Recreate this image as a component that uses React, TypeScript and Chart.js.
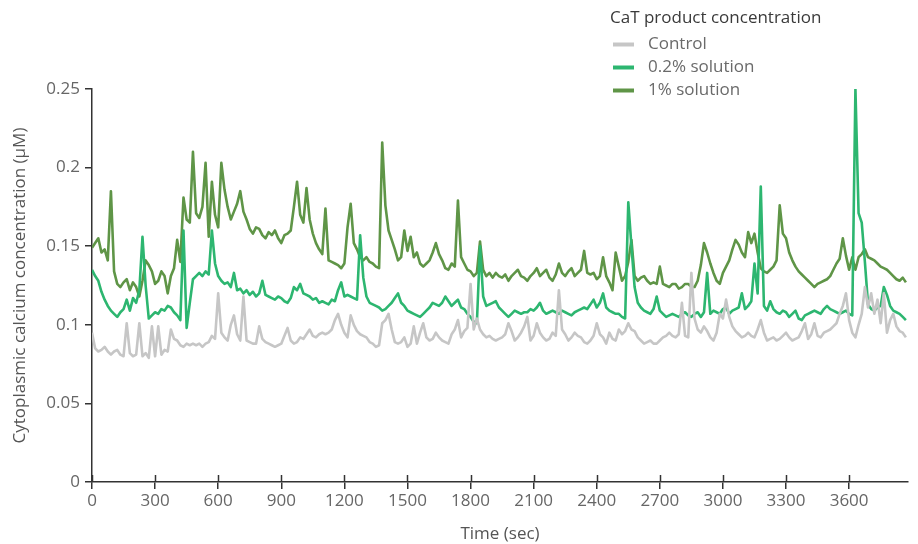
import { useEffect, useRef } from 'react';
import { Chart, registerables } from 'chart.js';

Chart.register(...registerables);

// Sampling interval of the recordings (seconds between consecutive values)
const SAMPLE_STEP_SEC = 15;
const X_MAX_SEC = 3880;

const seriesLabels = ['Control', '0.2% solution', '1% solution'];
const seriesColors = ['#c6c6c6', '#2db670', '#5f9547'];
const legendTitle = 'CaT product concentration';
const xAxisTitle = 'Time (sec)';
const yAxisTitle = 'Cytoplasmic calcium concentration (µM)';

const xTickValues = [0, 300, 600, 900, 1200, 1500, 1800, 2100, 2400, 2700, 3000, 3300, 3600];
const yTickValues = [0, 0.05, 0.1, 0.15, 0.2, 0.25];
const yTickLabels = ['0', '0.05', '0.1', '0.15', '0.2', '0.25'];

const controlValues = [
  0.095, 0.085, 0.083, 0.084, 0.086, 0.083, 0.081, 0.083, 0.084, 0.081,
  0.080, 0.101, 0.082, 0.080, 0.081, 0.101, 0.080, 0.082, 0.079, 0.099,
  0.080, 0.099, 0.081, 0.084, 0.083, 0.097, 0.091, 0.090, 0.087, 0.086,
  0.088, 0.087, 0.088, 0.087, 0.088, 0.086, 0.088, 0.089, 0.093, 0.091,
  0.120, 0.095, 0.092, 0.090, 0.100, 0.106, 0.094, 0.090, 0.118, 0.090,
  0.089, 0.088, 0.088, 0.099, 0.091, 0.089, 0.088, 0.087, 0.086, 0.087,
  0.088, 0.093, 0.098, 0.090, 0.088, 0.089, 0.092, 0.091, 0.094, 0.097,
  0.093, 0.092, 0.094, 0.095, 0.094, 0.095, 0.097, 0.103, 0.107, 0.100,
  0.095, 0.092, 0.106, 0.100, 0.096, 0.094, 0.093, 0.092, 0.089, 0.088,
  0.086, 0.087, 0.101, 0.103, 0.107, 0.097, 0.089, 0.088, 0.089, 0.092,
  0.086, 0.088, 0.099, 0.088, 0.095, 0.101, 0.092, 0.090, 0.091, 0.095,
  0.092, 0.090, 0.089, 0.088, 0.094, 0.097, 0.103, 0.092, 0.096, 0.098,
  0.126, 0.097, 0.104, 0.097, 0.094, 0.092, 0.093, 0.091, 0.090, 0.091,
  0.092, 0.094, 0.101, 0.096, 0.090, 0.092, 0.095, 0.099, 0.105, 0.090,
  0.093, 0.101, 0.095, 0.092, 0.090, 0.091, 0.095, 0.093, 0.122, 0.097,
  0.094, 0.090, 0.092, 0.095, 0.093, 0.092, 0.089, 0.088, 0.090, 0.093,
  0.101, 0.094, 0.092, 0.088, 0.095, 0.091, 0.090, 0.097, 0.094, 0.096,
  0.101, 0.097, 0.096, 0.092, 0.090, 0.088, 0.089, 0.090, 0.088, 0.088,
  0.090, 0.092, 0.093, 0.095, 0.093, 0.092, 0.094, 0.114, 0.093, 0.092,
  0.133, 0.104, 0.097, 0.095, 0.099, 0.096, 0.092, 0.090, 0.095, 0.107,
  0.104, 0.116, 0.105, 0.099, 0.096, 0.094, 0.092, 0.093, 0.095, 0.093,
  0.092, 0.097, 0.103, 0.095, 0.090, 0.091, 0.092, 0.090, 0.091, 0.093,
  0.095, 0.092, 0.090, 0.091, 0.092, 0.096, 0.101, 0.091, 0.094, 0.101,
  0.093, 0.092, 0.095, 0.096, 0.097, 0.099, 0.101, 0.107, 0.112, 0.120,
  0.103, 0.095, 0.092, 0.100, 0.107, 0.124, 0.111, 0.120, 0.107, 0.116,
  0.101, 0.120, 0.095, 0.103, 0.107, 0.099, 0.096, 0.095, 0.092,
];

const solution02Values = [
  0.135, 0.131, 0.128, 0.121, 0.116, 0.112, 0.109, 0.107, 0.105, 0.108,
  0.110, 0.116, 0.109, 0.117, 0.114, 0.122, 0.156, 0.125, 0.104, 0.106,
  0.108, 0.107, 0.110, 0.109, 0.112, 0.111, 0.108, 0.106, 0.103, 0.160,
  0.098, 0.114, 0.129, 0.131, 0.133, 0.131, 0.134, 0.132, 0.160, 0.139,
  0.131, 0.128, 0.126, 0.127, 0.124, 0.133, 0.122, 0.123, 0.120, 0.122,
  0.119, 0.121, 0.118, 0.120, 0.128, 0.119, 0.118, 0.117, 0.116, 0.118,
  0.117, 0.115, 0.114, 0.117, 0.124, 0.122, 0.126, 0.120, 0.119, 0.118,
  0.116, 0.117, 0.114, 0.115, 0.114, 0.113, 0.116, 0.115, 0.122, 0.127,
  0.118, 0.119, 0.118, 0.117, 0.116, 0.157, 0.130, 0.118, 0.114, 0.113,
  0.112, 0.111, 0.109, 0.110, 0.112, 0.114, 0.117, 0.120, 0.114, 0.112,
  0.109, 0.108, 0.107, 0.106, 0.105, 0.107, 0.109, 0.111, 0.114, 0.113,
  0.112, 0.114, 0.118, 0.115, 0.112, 0.114, 0.116, 0.111, 0.110, 0.107,
  0.105, 0.102, 0.101, 0.150, 0.118, 0.112, 0.113, 0.114, 0.115, 0.111,
  0.109, 0.107, 0.105, 0.107, 0.109, 0.108, 0.107, 0.108, 0.108, 0.110,
  0.109, 0.111, 0.114, 0.109, 0.107, 0.108, 0.109, 0.108, 0.107, 0.109,
  0.108, 0.107, 0.106, 0.108, 0.109, 0.110, 0.111, 0.110, 0.113, 0.116,
  0.111, 0.114, 0.120, 0.111, 0.109, 0.108, 0.107, 0.107, 0.105, 0.104,
  0.178, 0.150, 0.124, 0.114, 0.111, 0.109, 0.108, 0.107, 0.110, 0.118,
  0.109, 0.107, 0.105, 0.106, 0.107, 0.106, 0.105, 0.107, 0.108, 0.106,
  0.105, 0.107, 0.108, 0.105, 0.108, 0.133, 0.107, 0.109, 0.108, 0.107,
  0.110, 0.111, 0.107, 0.109, 0.110, 0.111, 0.120, 0.110, 0.112, 0.115,
  0.139, 0.120, 0.188, 0.112, 0.109, 0.115, 0.110, 0.108, 0.107, 0.109,
  0.108, 0.105, 0.107, 0.109, 0.104, 0.103, 0.106, 0.107, 0.108, 0.109,
  0.108, 0.107, 0.110, 0.112, 0.110, 0.109, 0.108, 0.107, 0.108, 0.109,
  0.107, 0.106, 0.250, 0.171, 0.165, 0.140, 0.113, 0.110, 0.109, 0.111,
  0.112, 0.124, 0.119, 0.112, 0.109, 0.108, 0.107, 0.105, 0.103,
];

const solution1Values = [
  0.149, 0.152, 0.155, 0.146, 0.148, 0.141, 0.185, 0.134, 0.126, 0.124,
  0.127, 0.129, 0.122, 0.127, 0.124, 0.118, 0.128, 0.141, 0.138, 0.134,
  0.126, 0.128, 0.134, 0.131, 0.120, 0.131, 0.136, 0.154, 0.140, 0.181,
  0.167, 0.165, 0.210, 0.171, 0.168, 0.175, 0.203, 0.156, 0.191, 0.170,
  0.162, 0.203, 0.186, 0.175, 0.167, 0.172, 0.177, 0.185, 0.172, 0.167,
  0.161, 0.158, 0.162, 0.161, 0.157, 0.155, 0.159, 0.157, 0.160, 0.155,
  0.152, 0.157, 0.158, 0.160, 0.175, 0.191, 0.170, 0.165, 0.187, 0.167,
  0.158, 0.152, 0.148, 0.145, 0.174, 0.141, 0.140, 0.139, 0.138, 0.136,
  0.139, 0.162, 0.177, 0.152, 0.148, 0.143, 0.141, 0.143, 0.140, 0.139,
  0.137, 0.136, 0.216, 0.176, 0.160, 0.154, 0.148, 0.141, 0.143, 0.160,
  0.147, 0.156, 0.143, 0.146, 0.139, 0.137, 0.139, 0.141, 0.146, 0.152,
  0.145, 0.141, 0.136, 0.135, 0.139, 0.137, 0.179, 0.143, 0.139, 0.135,
  0.134, 0.131, 0.133, 0.153, 0.135, 0.131, 0.133, 0.130, 0.133, 0.131,
  0.130, 0.132, 0.128, 0.131, 0.133, 0.135, 0.131, 0.130, 0.128, 0.131,
  0.133, 0.136, 0.131, 0.133, 0.135, 0.130, 0.128, 0.132, 0.139, 0.133,
  0.131, 0.134, 0.136, 0.131, 0.133, 0.135, 0.147, 0.133, 0.132, 0.133,
  0.129, 0.131, 0.143, 0.131, 0.127, 0.122, 0.146, 0.137, 0.128, 0.131,
  0.140, 0.154, 0.131, 0.128, 0.130, 0.131, 0.128, 0.126, 0.127, 0.126,
  0.137, 0.126, 0.125, 0.124, 0.126, 0.126, 0.123, 0.124, 0.126, 0.126,
  0.124, 0.124, 0.128, 0.138, 0.152, 0.146, 0.139, 0.133, 0.128, 0.126,
  0.133, 0.137, 0.141, 0.148, 0.154, 0.151, 0.146, 0.143, 0.159, 0.152,
  0.158, 0.146, 0.136, 0.134, 0.133, 0.135, 0.137, 0.141, 0.176, 0.158,
  0.155, 0.146, 0.141, 0.137, 0.134, 0.132, 0.130, 0.128, 0.126, 0.124,
  0.126, 0.127, 0.128, 0.129, 0.131, 0.135, 0.139, 0.142, 0.155, 0.144,
  0.135, 0.143, 0.135, 0.143, 0.145, 0.148, 0.143, 0.142, 0.141, 0.139,
  0.137, 0.136, 0.135, 0.133, 0.131, 0.129, 0.128, 0.130, 0.127,
];

const seriesValues = [controlValues, solution02Values, solution1Values];

const FONT_FAMILY = '"Open Sans", "Noto Sans", sans-serif';
const AXIS_COLOR = '#333333';

const toPoints = (values: number[]) =>
  values.map((v, i) => ({ x: i * SAMPLE_STEP_SEC, y: v }));

const decorPlugin = {
  id: 'decor',
  afterDraw(chart: any) {
    const { ctx, chartArea } = chart;
    const xScale = chart.scales.x;
    ctx.save();
    // inner half of the x-axis tick marks
    ctx.strokeStyle = AXIS_COLOR;
    ctx.lineWidth = 1.5;
    xTickValues.forEach((v) => {
      const px = Math.round(xScale.getPixelForValue(v)) + 0.5;
      ctx.beginPath();
      ctx.moveTo(px, chartArea.bottom - 7);
      ctx.lineTo(px, chartArea.bottom);
      ctx.stroke();
    });
    // legend
    const lx = 610;
    ctx.textBaseline = 'middle';
    ctx.textAlign = 'left';
    ctx.fillStyle = '#3a3a3a';
    ctx.font = `17px ${FONT_FAMILY}`;
    ctx.fillText(legendTitle, lx, 18);
    const rowsY = [44, 67, 90];
    chart.data.datasets.forEach((ds: any, i: number) => {
      const y = rowsY[i];
      ctx.strokeStyle = ds.borderColor;
      ctx.lineWidth = 4;
      ctx.beginPath();
      ctx.moveTo(613, y + 0.5);
      ctx.lineTo(634, y + 0.5);
      ctx.stroke();
      ctx.fillStyle = '#6a6a6a';
      ctx.fillText(ds.label, 648, y);
    });
    ctx.restore();
  },
};

export default function App() {
  const canvasRef = useRef<HTMLCanvasElement | null>(null);

  useEffect(() => {
    document.body.style.margin = '0';
    const canvas = canvasRef.current;
    if (!canvas) return;
    const chart = new Chart(canvas, {
      type: 'line',
      data: {
        datasets: seriesLabels.map((label, i) => ({
          label,
          data: toPoints(seriesValues[i]),
          borderColor: seriesColors[i],
          backgroundColor: seriesColors[i],
          borderWidth: 2.6,
          borderJoinStyle: 'round',
          pointRadius: 0,
          tension: 0,
          fill: false,
        })),
      },
      options: {
        animation: false,
        responsive: true,
        maintainAspectRatio: false,
        devicePixelRatio: 1,
        layout: { padding: { top: 89, right: 10, left: 0, bottom: 0 } },
        plugins: {
          legend: { display: false },
          tooltip: { enabled: false },
        },
        scales: {
          x: {
            type: 'linear',
            min: 0,
            max: X_MAX_SEC,
            afterFit: (scale: any) => {
              scale.height = 62;
            },
            afterBuildTicks: (scale: any) => {
              scale.ticks = xTickValues.map((v) => ({ value: v }));
            },
            ticks: {
              color: '#666666',
              padding: 2,
              maxRotation: 0,
              autoSkip: false,
              font: { family: FONT_FAMILY, size: 17 },
              callback: (v: any) => String(v),
            },
            grid: {
              drawOnChartArea: false,
              drawTicks: true,
              tickLength: 7,
              color: AXIS_COLOR,
              lineWidth: 1.5,
            },
            border: { display: true, color: AXIS_COLOR, width: 1.5 },
            title: {
              display: true,
              text: xAxisTitle,
              color: '#555555',
              font: { family: FONT_FAMILY, size: 17 },
              padding: { top: 0, bottom: 0 },
            },
          },
          y: {
            type: 'linear',
            min: 0,
            max: 0.25,
            afterFit: (scale: any) => {
              scale.width = 92;
            },
            afterBuildTicks: (scale: any) => {
              scale.ticks = yTickValues.map((v) => ({ value: v }));
            },
            ticks: {
              color: '#666666',
              padding: 5,
              autoSkip: false,
              font: { family: FONT_FAMILY, size: 17 },
              callback: (v: any) => {
                const idx = yTickValues.findIndex((t) => Math.abs(t - v) < 1e-9);
                return idx >= 0 ? yTickLabels[idx] : '';
              },
            },
            grid: {
              drawOnChartArea: false,
              drawTicks: true,
              tickLength: 7,
              color: AXIS_COLOR,
              lineWidth: 1.5,
            },
            border: { display: true, color: AXIS_COLOR, width: 1.5 },
            title: {
              display: true,
              text: yAxisTitle,
              color: '#555555',
              font: { family: FONT_FAMILY, size: 17 },
              padding: { top: 10, bottom: 0 },
            },
          },
        },
      },
      plugins: [decorPlugin],
    } as any);
    return () => chart.destroy();
  }, []);

  return (
    <div style={{ position: 'absolute', left: 0, top: 0, width: 918, height: 544 }}>
      <canvas ref={canvasRef} />
    </div>
  );
}
